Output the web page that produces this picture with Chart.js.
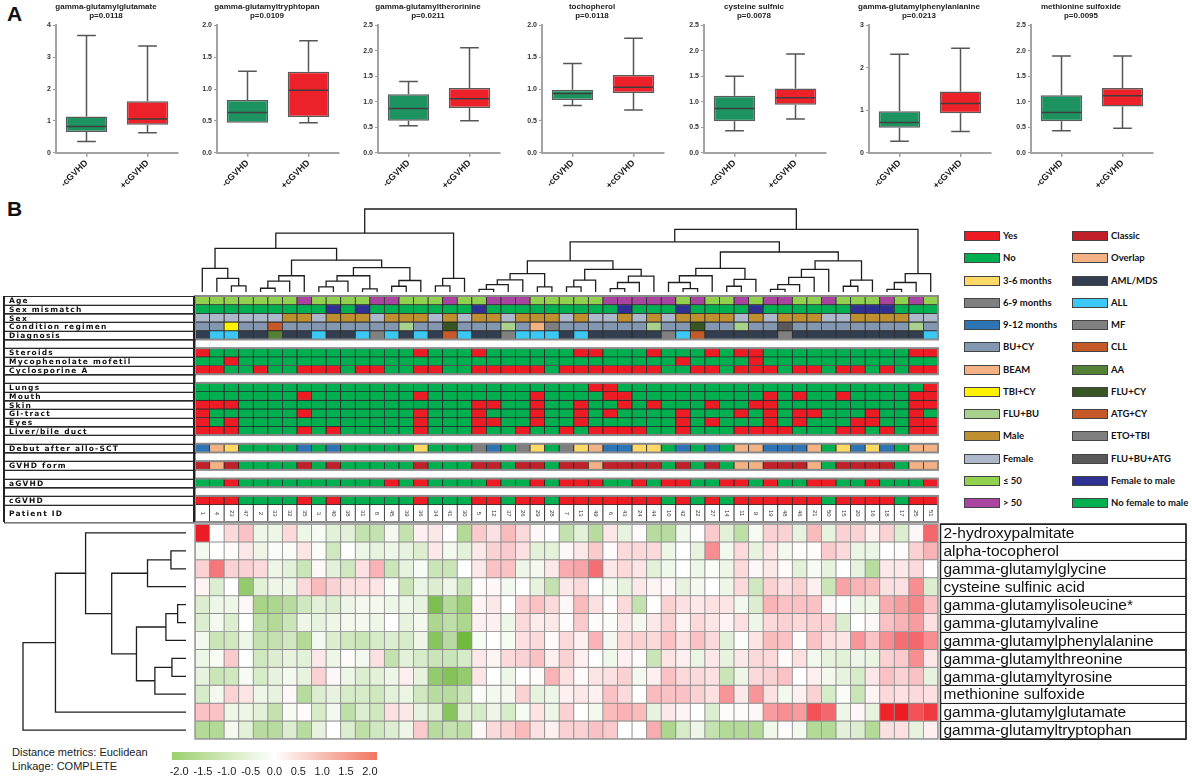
<!DOCTYPE html>
<html>
<head>
<meta charset="utf-8">
<title>cGVHD metabolites</title>
<script src="https://cdn.jsdelivr.net/npm/chart.js@4.4.1/dist/chart.umd.min.js"></script>
<style>
  body { margin: 0; background: #fff; }
  #page { position: relative; width: 1192px; height: 781px; overflow: hidden; font-family: "Liberation Sans", Arial, sans-serif; }
  #page canvas { position: absolute; }
  .panel { position: absolute; font-weight: bold; font-size: 21px; color: #111; }
  .note { position: absolute; left: 12px; font-size: 11px; color: #222; }
  .key { position: absolute; width: 36px; height: 10px; border: 1px solid #444; box-sizing: border-box; }
  .keytxt { position: absolute; font: bold 9.5px Lato, sans-serif; color: #111; line-height: 12px; white-space: nowrap; }
</style>
</head>
<body>
<div id="page">
  <div class="panel" style="left:7px;top:2px">A</div>
  <div class="panel" style="left:7px;top:197px">B</div>
  <div class="note" style="top:746px">Distance metrics: Euclidean</div>
  <div class="note" style="top:760px">Linkage: COMPLETE</div>
</div>
<script>
// ---------- panel A : box plots ----------
var boxTitles = ["gamma-glutamylglutamate", "gamma-glutamyltryphtopan", "gamma-glutamyltherorinine", "tochopherol",
  "cysteine sulfnic", "gamma-glutamylphenylanlanine", "methionine sulfoxide"];
var boxPValues = ["p=0.0118", "p=0.0109", "p=0.0211", "p=0.0118", "p=0.0078", "p=0.0213", "p=0.0095"];
var groupLabels = ["-cGVHD", "+cGVHD"];
// [min, q1, median, q3, max]
var statsNoGvhd = [[0.35, 0.65, 0.82, 1.14, 3.68], [0.47, 0.47, 0.63, 0.83, 1.28], [0.53, 0.63, 0.87, 1.15, 1.40],
  [0.74, 0.83, 0.93, 0.99, 1.40], [0.43, 0.62, 0.87, 1.12, 1.50], [0.27, 0.59, 0.71, 0.98, 2.32], [0.43, 0.62, 0.79, 1.13, 1.90]];
var statsGvhd = [[0.63, 0.88, 1.06, 1.62, 3.35], [0.47, 0.56, 0.98, 1.27, 1.76], [0.63, 0.88, 1.06, 1.27, 2.06],
  [0.67, 0.94, 1.03, 1.22, 1.80], [0.66, 0.94, 1.08, 1.26, 1.94], [0.50, 0.93, 1.16, 1.44, 2.46], [0.48, 0.91, 1.12, 1.27, 1.90]];
var axisMax = [4, 2, 2.5, 2, 2.5, 3, 2.5];
var axisStep = [1, 0.5, 0.5, 0.5, 0.5, 1, 0.5];
var boxAxisX = [56, 217, 378, 542, 704, 869, 1031];

// ---------- panel B : clinical tracks (51 patients, dendrogram order) ----------
var patientIds = [1, 4, 23, 47, 2, 33, 32, 35, 3, 40, 38, 31, 8, 45, 39, 36, 34, 41, 30, 5, 12, 37, 26, 29, 28, 7,
  13, 49, 6, 43, 24, 44, 10, 42, 22, 27, 14, 11, 9, 19, 48, 46, 21, 50, 15, 20, 16, 18, 17, 25, 51];
var ageTrack       = "AAAAAAAPAAAAPPAAAPAAPPPAAAAAPPPPPAPAAPAPPAAPAAAPAPA";
var mismatchTrack  = "NNNNNNNNNFNFNNNNNNNFNNNNNNNNNFNNNFNNNNFNNNNNNFFFNNN";
var sexTrack       = "FFFFFFMMFMMMFMMMFMFMMFMMMFMFFMFMFMMMMFMFMMMFFMMMMFF";
var regimenTrack   = "BBTBBGBBBBBBBBLBBDBBBLBEOBBBBBBLBBDBBLBBXBBBBBBBBLB";
var diagnosisTrack = "MAAMMGMMAMMAFAMAMCAMMFAAAMAMMMMMFACMMMMMFMMMMMMMMMA";
var debutTrack     = "NPTGGGGNGNGGGGGTGGGSNGSTGSTPNNTTGNGNGPPNNNPGTNTNGPP";
var formTrack      = "COCGGGGCGCGGGGGCGGGCCGCCGCCOCCCCGCGCGOOCCCOGCCCCGOO";
// patients with "Yes"
var steroidsYes = [0, 15, 19, 26, 27, 31, 35, 37, 38, 49, 50];
var mycoYes = [2, 33, 38];
var cyclosporineYes = [0, 1, 4, 7, 8, 9, 11, 12, 15, 16, 19, 20, 21, 22, 23, 25, 26, 27, 28, 29, 30, 31, 34, 35, 37, 38, 39, 41, 42, 44, 45, 47, 49, 50];
var lungsYes = [27, 28, 50];
var mouthYes = [7, 15, 23, 28, 29, 39, 41, 44, 49, 50];
var skinYes = [0, 1, 2, 19, 20, 23, 26, 29, 31, 35, 38, 39, 49, 50];
var giYes = [0, 7, 15, 19, 23, 26, 28, 33, 37, 39, 41, 42, 46, 49];
var eyesYes = [0, 2, 15, 19, 20, 23, 26, 33, 35, 39, 41, 45, 46, 49, 50];
var liverYes = [0, 1, 2, 7, 9, 15, 19, 22, 25, 27, 28, 29, 30, 33, 37, 38, 39, 40, 44, 45, 47, 49, 50];
var aGvhdYes = [2, 13, 15, 20, 23, 25, 26, 27, 30, 32, 33, 36, 37, 39, 42, 43, 46, 50];
var cGvhdNo = [3, 4, 5, 6, 8, 10, 11, 12, 13, 14, 16, 17, 18, 21, 24, 32, 34, 36, 43, 48];

// legend entries
var legendLeft = [["Yes", "#ed1c24"], ["No", "#00b050"], ["3-6 months", "#ffd966"], ["6-9 months", "#7f7f7f"],
  ["9-12 months", "#2e75b6"], ["BU+CY", "#8497b0"], ["BEAM", "#f4b183"], ["TBI+CY", "#fff200"], ["FLU+BU", "#a9d18e"],
  ["Male", "#bf9030"], ["Female", "#adb9ca"], ["\u2264 50", "#92d050"], ["> 50", "#a9449f"]];
var legendRight = [["Classic", "#c0202a"], ["Overlap", "#f4b183"], ["AML/MDS", "#333f50"], ["ALL", "#3cc8f4"],
  ["MF", "#808080"], ["CLL", "#c55a28"], ["AA", "#548235"], ["FLU+CY", "#375623"], ["ATG+CY", "#c55a28"],
  ["ETO+TBI", "#7f7f7f"], ["FLU+BU+ATG", "#595959"], ["Female to male", "#2e3192"], ["No female to male", "#00b050"]];

// ---------- panel B : heatmap ----------
var metaboliteNames = ["2-hydroxypalmitate", "alpha-tocopherol", "gamma-glutamylglycine", "cysteine sulfinic acid",
  "gamma-glutamylisoleucine*", "gamma-glutamylvaline", "gamma-glutamylphenylalanine", "gamma-glutamylthreonine",
  "gamma-glutamyltyrosine", "methionine sulfoxide", "gamma-glutamylglutamate", "gamma-glutamyltryptophan"];
var hydroxypalmitate = [3.0, 0, 0.5, 0.8, -0.3, -0.3, 0.5, -0.3, -0.15, -0.5, -0.5, -1.0, -1.0, -0.2, -1.0, 0.2, 0.3, 0, -1.3, 0.7, 0.4, 0.9, 0.5, 0.1, 0, -1.0,
  -0.5, -1.2, 0.3, -0.4, 0.05, -1.2, -1.2, -0.25, 0, 0.7, -0.5, -1.1, -0.15, 0.6, 0.6, -0.4, 0.9, -0.4, 0.6, 0.6, 0.2, 0.6, -0.6, 0.1, 2.0];
var tocopherol = [-0.2, 0, 0.05, 0.3, -0.3, -0.1, -0.1, 0.35, -0.1, -0.8, 0, -0.3, -0.4, -0.3, -0.4, -0.6, 0.3, -0.2, -0.5, 0.3, 0.6, 0.7, 0.4, -0.5, -0.5, 0.1,
  0.3, 0.7, 0.05, 0.5, 0.5, 0.5, -0.3, 0, -0.4, 1.5, -0.2, 0.5, -0.4, 0.35, -0.2, 0.05, 0.05, 0.7, 0.5, -0.35, -0.35, 0, 0.05, 0.6, 1.0];
var glycine = [0.6, 1.8, 0.6, 0.6, 0.5, -0.3, -0.5, -0.9, 0.1, -0.5, -0.8, 0.4, 1.0, -0.9, -0.4, -0.15, -0.9, -0.9, 0, 0.3, 0.8, 0.8, -0.3, -0.2, 0.3, 1.1,
  1.2, 1.9, 0.3, 0.5, 0.35, -0.5, -0.25, 0, -0.3, -0.1, -0.3, 0.5, 0.1, 0.3, 0.05, -0.5, -0.15, -0.4, 0, -0.4, -1.2, 0.3, 0.3, 0.5, 0];
var cysteine = [0.15, -0.6, 0, -1.8, -0.5, -0.3, -0.3, 0.5, 0.9, 0.6, 0.4, 0.4, 0.35, -0.15, -0.9, -0.35, -0.6, -0.3, -0.9, 0.05, 0.1, -0.2, 0, -0.4, -1.0, 0.3,
  0.5, 0, -0.2, -0.4, 0.3, 0.15, 0.1, -0.4, -0.2, 0, -0.3, 0.5, -0.8, 0.6, 0.4, 0.6, 0.2, -0.9, 1.2, 1.0, 0.9, 0.4, 0.4, 1.5, -0.6];
var isoleucine = [-0.6, -0.3, -0.3, 0.1, -1.5, -1.4, -1.2, -0.8, -0.5, -0.6, -0.3, -0.2, -0.2, -0.3, -0.3, -0.4, -2.2, -1.3, -1.7, 0.15, 0.3, 0, 0.6, 0.8, 0.5, 0.1,
  0.9, 0.4, 0.05, 0.5, -1.0, 0, 0.6, 0.4, 0.3, 0.4, 0.35, -0.2, -0.6, 1.0, 0.8, 0.8, 0.8, 0.1, 0, -0.3, -0.3, 1.1, 1.3, 1.6, 0.8];
var valine = [-0.6, -0.2, -0.6, 0, -1.1, -1.3, -0.9, -0.3, -0.4, -0.3, -0.2, -0.2, -0.3, 0, -0.4, -0.2, -1.4, -1.1, -1.4, 0.2, 0.2, -0.3, 0.5, 0.25, 0.3, 0.05,
  0.7, 0.05, -0.1, 0.3, -0.2, 0.3, 0.6, 0.15, 0.5, 0.35, 0.15, 0.4, -0.3, 0.5, 0.6, 0.5, 0.6, 0.6, -0.6, 0, 0.1, 0.8, 1.0, 1.3, 0.4];
var phenylalanine = [-0.2, -0.9, -0.8, -0.3, -1.0, -1.0, -0.8, -1.3, -0.2, -0.6, -0.8, -0.9, -0.7, -0.6, -0.7, -0.3, -2.0, -1.2, -2.4, -0.15, 0, -0.15, 0.4, 0.5, 0.05, 0.5,
  0.2, 1.0, -0.2, 0.5, 0.6, 0.5, 0.8, 0.4, 0.8, 0.5, -0.5, -0.05, 0.35, 0.9, 0.8, 0.05, 0.8, 0.4, 0.35, 1.4, 0.8, 1.5, 1.9, 2.0, 1.5];
var threonine = [-0.3, -0.15, 0.7, 0, -0.8, -0.6, -0.4, -0.5, 0.3, -0.3, 0.05, -0.2, 0.4, -1.0, -0.5, -0.7, -0.9, -0.9, -0.7, 0.3, 0.15, 0.5, 0.6, 0.8, 0.2, 0.6,
  0.2, 0, -0.25, 0.2, 0.05, -0.9, 0.35, 0.2, -0.35, 0.3, -0.4, 0.3, 0.5, 0.5, 0.05, 0.4, -0.2, -0.4, -0.5, -0.3, -0.35, 0.6, 0.7, 1.5, 0.3];
var tyrosine = [-0.4, -0.9, -0.8, -0.15, -0.7, -0.4, -0.2, -0.4, 0.6, 0.1, -0.3, -0.6, -0.5, -0.3, 0.2, -0.4, -1.8, -2.1, -1.8, 0.35, 0, -0.3, 0, 0.05, 1.0, 0.4,
  0.05, 0.35, 0.4, 0.6, -0.2, 0.2, 0.8, 0.5, 0.5, 0.4, -0.9, -0.3, 0.5, 0.6, 0.8, 0, 0.2, -0.2, -0.4, -0.7, 0.3, 0.8, 0.6, 0.8, -0.4];
var methionine = [-0.7, -0.2, 0.6, 0.35, -0.3, -0.4, 0.1, -1.2, -0.6, -0.4, -0.7, -0.7, -0.8, -0.5, -0.35, -0.8, -1.2, -1.2, -0.9, -0.1, -0.2, -0.2, 0.6, -0.4, -0.3, 0.2,
  0.3, 0.2, 0.8, 0.5, 0, 0.9, 0.8, 0.8, 0.6, 0.4, 1.4, 0.3, 1.4, 0.4, -0.2, 0.2, 0.6, -0.7, -0.1, -0.9, 0.15, 0.5, 0.4, 0.5, 0.4];
var glutamate = [0.8, 0.8, -0.3, -0.3, -0.5, -1.0, -0.15, 0.05, -0.7, -0.2, -1.1, -0.6, -0.8, 0.4, 0.3, -0.4, -0.6, -2.0, -0.5, -0.7, -0.3, -0.7, -0.15, 0.35, -0.3, 0.6,
  0, -0.2, 0.9, 1.0, 0.9, -0.4, 0.3, 0.15, 0, -0.6, 0.05, 0.05, 0.1, 1.3, 1.5, 1.3, 2.3, 2.0, -0.3, 0.1, -0.4, 2.9, 3.0, 2.3, 2.6];
var tryptophan = [-1.3, -1.3, -0.2, -0.5, -1.2, -1.2, -0.6, -1.2, -0.4, 0, -0.6, -1.1, -0.8, -0.6, -0.3, 0.7, -1.2, -1.0, -1.1, 0.1, 0.5, 0.6, 0.9, 0.4, 0.2, 0.6,
  0.6, 0.8, 0.7, 0, 0, 1.1, -1.4, -0.7, -0.3, -1.0, -1.3, -1.3, -1.3, -0.25, 0.05, -0.2, -1.3, -1.3, -0.5, -0.6, -1.3, 0.4, 0.4, -0.4, 0.2];
var heatRows = [hydroxypalmitate, tocopherol, glycine, cysteine, isoleucine, valine, phenylalanine, threonine,
  tyrosine, methionine, glutamate, tryptophan];

// dendrograms: [height, left, right], leaves are column / row indices
var colTree = [245,
  [174,
    [129,
      [70, 0, [40, 1, [18, 2, 3]]],
      [94,
        [48, [32, [11, 4, 5], 6], 7],
        [72, [48, [32, [15, 8, 9], 10], [9, 11, 12]], [34, [17, 13, 14], 15]]]],
    [40, [18, 16, 17], 18]],
  [185,
    [148,
      [92,
        [54, [36, [22, [8, 19, 20], 21], 22], [15, 23, 24]],
        [67, [35, [15, 25, 26], 27], [47, [28, [10, 28, 29], 30], 31]]],
      [118,
        [70, [48, [28, 32, [10, 33, 34]], 35], [37, [17, 36, 37], 38]],
        [92, [67, [43, [22, [8, 39, 40], 41], 42], 43], [35, [17, 44, 45], 46]]]],
    [54, [28, [8, 47, 48], 49], 50]]];
var rowTree = [487, [390, [300, 0, [222, [115, [45, 1, 2], 3], [148, [60, [25, 4, 5], 6], [93, [42, 7, 8], 9]]]], 10], 11];

var colorbarStops = [[-2.15, "#9ccf6c"], [0, "#ffffff"], [2.15, "#ef7660"]];

// ---------- helpers ----------
Chart.defaults.font.family = '"Liberation Sans", Arial, sans-serif';
Chart.defaults.animation = false;
var boxGreen = "#1c9360", boxRed = "#ec2129";
var nCols = patientIds.length;

function addCanvas(left, top, w, h) {
  var c = document.createElement("canvas");
  c.width = w; c.height = h;
  c.style.left = left + "px"; c.style.top = top + "px";
  c.style.width = w + "px"; c.style.height = h + "px";
  document.getElementById("page").appendChild(c);
  return c.getContext("2d");
}

function whiskerPlugin(stats) {
  return {
    id: "whiskers",
    afterDatasetsDraw: function (chart) {
      var ctx = chart.ctx, ys = chart.scales.y;
      chart.getDatasetMeta(0).data.forEach(function (bar, i) {
        var s = stats[i], p = bar.getProps(["x", "width"]), half = p.width / 2, cap = half * 0.45;
        ctx.save();
        ctx.strokeStyle = "#565656"; ctx.lineWidth = 1.5;
        ctx.beginPath();
        ctx.moveTo(p.x, ys.getPixelForValue(s[3])); ctx.lineTo(p.x, ys.getPixelForValue(s[4]));
        ctx.moveTo(p.x - cap, ys.getPixelForValue(s[4])); ctx.lineTo(p.x + cap, ys.getPixelForValue(s[4]));
        if (s[0] < s[1]) {
          ctx.moveTo(p.x, ys.getPixelForValue(s[1])); ctx.lineTo(p.x, ys.getPixelForValue(s[0]));
          ctx.moveTo(p.x - cap, ys.getPixelForValue(s[0])); ctx.lineTo(p.x + cap, ys.getPixelForValue(s[0]));
        }
        ctx.stroke();
        ctx.strokeStyle = "#3f3f3f";
        ctx.beginPath();
        ctx.moveTo(p.x - half + 1, ys.getPixelForValue(s[2])); ctx.lineTo(p.x + half - 1, ys.getPixelForValue(s[2]));
        ctx.stroke();
        ctx.restore();
      });
    }
  };
}

// box plots
boxTitles.forEach(function (title, k) {
  var stats = [statsNoGvhd[k], statsGvhd[k]];
  var ctx = addCanvas(boxAxisX[k] - 26, 0, 150, 192);
  new Chart(ctx, {
    type: "bar",
    data: {
      labels: groupLabels,
      datasets: [{
        data: stats.map(function (s) { return [s[1], s[3]]; }),
        backgroundColor: [boxGreen, boxRed],
        borderColor: "#5b5b5b", borderWidth: 1.5, borderSkipped: false,
        barPercentage: 0.68, categoryPercentage: 1
      }]
    },
    options: {
      responsive: false,
      layout: { padding: { left: 4, right: 2, top: 1 } },
      plugins: {
        legend: { display: false }, tooltip: { enabled: false },
        title: { display: true, text: [title, boxPValues[k]], color: "#222",
          font: { size: 8, weight: "bold", lineHeight: 1.15 }, padding: { top: 1, bottom: 5 } }
      },
      scales: {
        x: {
          grid: { drawOnChartArea: false, offset: false, tickLength: 4, color: "#9a9a9a", lineWidth: 1.5 },
          border: { color: "#a3a3a3", width: 2 },
          ticks: { maxRotation: 45, minRotation: 45, padding: 1, color: "#1a1a1a", font: { size: 9, weight: "bold" } }
        },
        y: {
          min: 0, max: axisMax[k],
          grid: { drawOnChartArea: false, tickLength: 3, color: "#9a9a9a" },
          border: { color: "#a3a3a3", width: 2 },
          ticks: { stepSize: axisStep[k], padding: 2, color: "#333", font: { size: 7, weight: "bold" },
            callback: function (v) { return axisStep[k] < 1 ? v.toFixed(1) : String(v); } },
          afterFit: function (s) { s.width = 22; }
        }
      }
    },
    plugins: [whiskerPlugin(stats)]
  });
});

// dendrogram brackets
function dendroSegments(node, out) {
  if (typeof node === "number") return { p: node, h: 0 };
  var L = dendroSegments(node[1], out), R = dendroSegments(node[2], out), h = node[0];
  out.push([[L.p, L.h], [L.p, h], [R.p, h], [R.p, R.h]]);
  return { p: (L.p + R.p) / 2, h: h };
}
function dendroChart(ctx, tree, horizontal, xs, ys, padding) {
  var segs = [];
  dendroSegments(tree, segs);
  new Chart(ctx, {
    type: "scatter",
    data: {
      datasets: segs.map(function (seg) {
        return {
          data: seg.map(function (pt) { return horizontal ? { x: pt[1], y: pt[0] } : { x: pt[0], y: pt[1] }; }),
          showLine: true, pointRadius: 0, borderColor: "#1e1e1e", borderWidth: 1.3, tension: 0, clip: false
        };
      })
    },
    options: {
      responsive: false, layout: { padding: padding },
      plugins: { legend: { display: false }, tooltip: { enabled: false } },
      scales: { x: Object.assign({ display: false }, xs), y: Object.assign({ display: false }, ys) }
    }
  });
}
dendroChart(addCanvas(195, 205, 743, 87), colTree, false,
  { min: -0.5, max: nCols - 0.5 }, { min: 0, max: colTree[0] }, { top: 4 });
dendroChart(addCanvas(20, 524, 166, 215), rowTree, true,
  { min: 0, max: rowTree[0], reverse: true }, { min: -0.5, max: metaboliteNames.length - 0.5, reverse: true }, { left: 3 });

// clinical annotation tracks
var colorOf = {};
legendLeft.concat(legendRight).forEach(function (e) { colorOf[e[0]] = e[1]; });
function coded(str, map) { return str.split("").map(function (c) { return map[c]; }); }
function yesNo(list) { return patientIds.map(function (id, i) { return list.indexOf(i) >= 0 ? "Yes" : "No"; }); }
function noYes(list) { return patientIds.map(function (id, i) { return list.indexOf(i) >= 0 ? "No" : "Yes"; }); }

var tracks = [
  ["Age", coded(ageTrack, { A: "\u2264 50", P: "> 50" })],
  ["Sex mismatch", coded(mismatchTrack, { N: "No female to male", F: "Female to male" })],
  ["Sex", coded(sexTrack, { F: "Female", M: "Male" })],
  ["Condition regimen", coded(regimenTrack, { B: "BU+CY", T: "TBI+CY", G: "ATG+CY", L: "FLU+BU", D: "FLU+CY", E: "BEAM", O: "ETO+TBI", X: "FLU+BU+ATG" })],
  ["Diagnosis", coded(diagnosisTrack, { M: "AML/MDS", A: "ALL", F: "MF", C: "CLL", G: "AA" })],
  ["", null],
  ["Steroids", yesNo(steroidsYes)],
  ["Mycophenolate mofetil", yesNo(mycoYes)],
  ["Cyclosporine A", yesNo(cyclosporineYes)],
  ["", null],
  ["Lungs", yesNo(lungsYes)],
  ["Mouth", yesNo(mouthYes)],
  ["Skin", yesNo(skinYes)],
  ["GI-tract", yesNo(giYes)],
  ["Eyes", yesNo(eyesYes)],
  ["Liver/bile duct", yesNo(liverYes)],
  ["", null],
  ["Debut after allo-SCT", coded(debutTrack, { N: "9-12 months", P: "BEAM", T: "3-6 months", S: "6-9 months", G: "No" })],
  ["", null],
  ["GVHD form", coded(formTrack, { C: "Classic", O: "Overlap", G: "No" })],
  ["", null],
  ["aGVHD", yesNo(aGvhdYes)],
  ["", null],
  ["cGVHD", noYes(cGvhdNo)],
  ["Patient ID", "ids"]
];
function rowUnits(t) { return t[1] === "ids" ? 2 : 1; }
var trackUnits = tracks.reduce(function (a, t) { return a + rowUnits(t); }, 0);

var trackPanel = {
  id: "trackPanel",
  afterDraw: function (chart) {
    var ctx = chart.ctx, a = chart.chartArea, y = chart.scales.y, x = chart.scales.x;
    var start = 0, groupTop = null;
    ctx.save();
    tracks.forEach(function (t, r) {
      var top = y.getPixelForValue(start), bot = y.getPixelForValue(start + rowUnits(t));
      ctx.strokeStyle = "#2a2a2a"; ctx.lineWidth = 1;
      ctx.strokeRect(4.5, Math.round(top) + 0.5, a.left - 4.5, bot - top);
      if (t[0]) {
        ctx.fillStyle = "#111"; ctx.font = 'bold 7.5px "DejaVu Sans"'; ctx.textBaseline = "middle";
        ctx.letterSpacing = "1.2px";
        ctx.fillText(t[0], 9, (top + bot) / 2 + 1);
        ctx.letterSpacing = "0px";
      }
      if (t[1] === "ids") {
        ctx.fillStyle = "#333"; ctx.font = "6px 'Liberation Sans'"; ctx.textAlign = "center";
        patientIds.forEach(function (id, i) {
          ctx.save();
          ctx.translate(x.getPixelForValue(i), (top + bot) / 2);
          ctx.rotate(Math.PI / 2);
          ctx.fillText(String(id), 0, 0);
          ctx.restore();
        });
        ctx.textAlign = "left";
      }
      // grey outline around each block of tracks
      if (t[1] && groupTop === null) groupTop = top;
      var next = tracks[r + 1];
      if (t[1] && (!next || !next[1]) && groupTop !== null) {
        ctx.strokeStyle = "#8a8a8a"; ctx.lineWidth = 2;
        ctx.strokeRect(a.left, groupTop, a.right - a.left, bot - groupTop);
        groupTop = null;
      }
      start += rowUnits(t);
    });
    ctx.fillStyle = "#222";
    ctx.fillRect(3, y.getPixelForValue(0), 2, y.getPixelForValue(trackUnits) - y.getPixelForValue(0));
    ctx.fillRect(a.left - 2, y.getPixelForValue(0), 2, y.getPixelForValue(trackUnits) - y.getPixelForValue(0));
    ctx.restore();
  }
};

new Chart(addCanvas(0, 294, 940, 230), {
  type: "bar",
  data: {
    labels: patientIds,
    datasets: tracks.map(function (t) {
      var blank = !t[1];
      return {
        data: patientIds.map(function () { return rowUnits(t); }),
        backgroundColor: blank ? "rgba(0,0,0,0)" : (t[1] === "ids" ? "#ffffff" : t[1].map(function (c) { return colorOf[c]; })),
        borderColor: "#2b2b2b", borderWidth: blank ? 0 : 0.8, borderSkipped: false,
        barPercentage: 1, categoryPercentage: 1, stack: "tracks"
      };
    })
  },
  options: {
    responsive: false,
    layout: { padding: { left: 195, right: 2, top: 2, bottom: 2 } },
    plugins: { legend: { display: false }, tooltip: { enabled: false } },
    scales: {
      x: { display: false, stacked: true },
      y: { display: false, stacked: true, min: 0, max: trackUnits, reverse: true }
    }
  },
  plugins: [trackPanel]
});

// heatmap
function heatColor(v) {
  var r, g, b, t;
  if (v >= 0) { t = Math.min(v / 3, 1); r = 255 - 18 * t; g = 255 - 227 * t; b = 255 - 219 * t; }
  else { t = Math.min(-v / 2.5, 1); r = 255 - 147 * t; g = 255 - 72 * t; b = 255 - 200 * t; }
  return "rgb(" + Math.round(r) + "," + Math.round(g) + "," + Math.round(b) + ")";
}
var rowNamesPanel = {
  id: "rowNames",
  afterDraw: function (chart) {
    var ctx = chart.ctx, a = chart.chartArea, y = chart.scales.y;
    var x0 = a.right + 2.5, x1 = chart.width - 4;
    ctx.save();
    ctx.font = '15.5px "Liberation Sans"'; ctx.fillStyle = "#111"; ctx.textBaseline = "middle";
    metaboliteNames.forEach(function (n, i) {
      var top = y.getPixelForValue(i), bot = y.getPixelForValue(i + 1);
      ctx.strokeStyle = "#222"; ctx.lineWidth = 1;
      ctx.strokeRect(x0, Math.round(top) + 0.5, x1 - x0, bot - top);
      ctx.fillText(n, x0 + 3, (top + bot) / 2 + 1);
    });
    ctx.lineWidth = 1.5;
    ctx.strokeRect(x0, y.getPixelForValue(0), x1 - x0, y.getPixelForValue(metaboliteNames.length) - y.getPixelForValue(0));
    ctx.strokeStyle = "#9a9a9a"; ctx.lineWidth = 1.5;
    ctx.strokeRect(a.left, a.top, a.right - a.left, a.bottom - a.top);
    ctx.restore();
  }
};
new Chart(addCanvas(190, 522, 1000, 220), {
  type: "bar",
  data: {
    labels: patientIds,
    datasets: heatRows.map(function (row) {
      return {
        data: row.map(function () { return 1; }),
        backgroundColor: row.map(heatColor),
        borderColor: "#8e8e8e", borderWidth: 0.8, borderSkipped: false,
        barPercentage: 1, categoryPercentage: 1, stack: "heat"
      };
    })
  },
  options: {
    responsive: false,
    layout: { padding: { left: 5, right: 252, top: 2, bottom: 3 } },
    plugins: { legend: { display: false }, tooltip: { enabled: false } },
    scales: {
      x: { display: false, stacked: true },
      y: { display: false, stacked: true, min: 0, max: heatRows.length, reverse: true }
    }
  },
  plugins: [rowNamesPanel]
});

// colour key
var colorbarFill = {
  id: "colorbarFill",
  beforeDatasetsDraw: function (chart) {
    var ctx = chart.ctx, a = chart.chartArea, x = chart.scales.x;
    var x0 = x.getPixelForValue(colorbarStops[0][0]), x1 = x.getPixelForValue(colorbarStops[colorbarStops.length - 1][0]);
    var grad = ctx.createLinearGradient(x0, 0, x1, 0);
    colorbarStops.forEach(function (s) { grad.addColorStop((x.getPixelForValue(s[0]) - x0) / (x1 - x0), s[1]); });
    ctx.save();
    ctx.fillStyle = grad;
    ctx.fillRect(x0, a.top, x1 - x0, 8);
    ctx.restore();
  }
};
new Chart(addCanvas(166, 750, 218, 28), {
  type: "scatter",
  data: { datasets: [] },
  options: {
    responsive: false,
    layout: { padding: { left: 6, right: 7, top: 2, bottom: 0 } },
    plugins: { legend: { display: false }, tooltip: { enabled: false } },
    scales: {
      x: {
        type: "linear", min: colorbarStops[0][0], max: colorbarStops[colorbarStops.length - 1][0],
        grid: { display: false, drawTicks: false }, border: { display: false },
        ticks: { stepSize: 0.5, includeBounds: false, padding: 1, color: "#222", font: { size: 11 },
          callback: function (v) { return v.toFixed(1); } },
        afterFit: function (s) { s.height = 14; }
      },
      y: { display: false, min: 0, max: 1 }
    }
  },
  plugins: [colorbarFill]
});

// legend
var page = document.getElementById("page");
[[legendLeft, 964, 1003], [legendRight, 1072, 1111]].forEach(function (col) {
  col[0].forEach(function (e, i) {
    var cy = 236 + 22.25 * i;
    var sw = document.createElement("div");
    sw.className = "key"; sw.style.left = col[1] + "px"; sw.style.top = (cy - 5) + "px"; sw.style.background = e[1];
    page.appendChild(sw);
    var tx = document.createElement("div");
    tx.className = "keytxt"; tx.style.left = col[2] + "px"; tx.style.top = (cy - 6) + "px"; tx.textContent = e[0];
    page.appendChild(tx);
  });
});
</script>
</body>
</html>
